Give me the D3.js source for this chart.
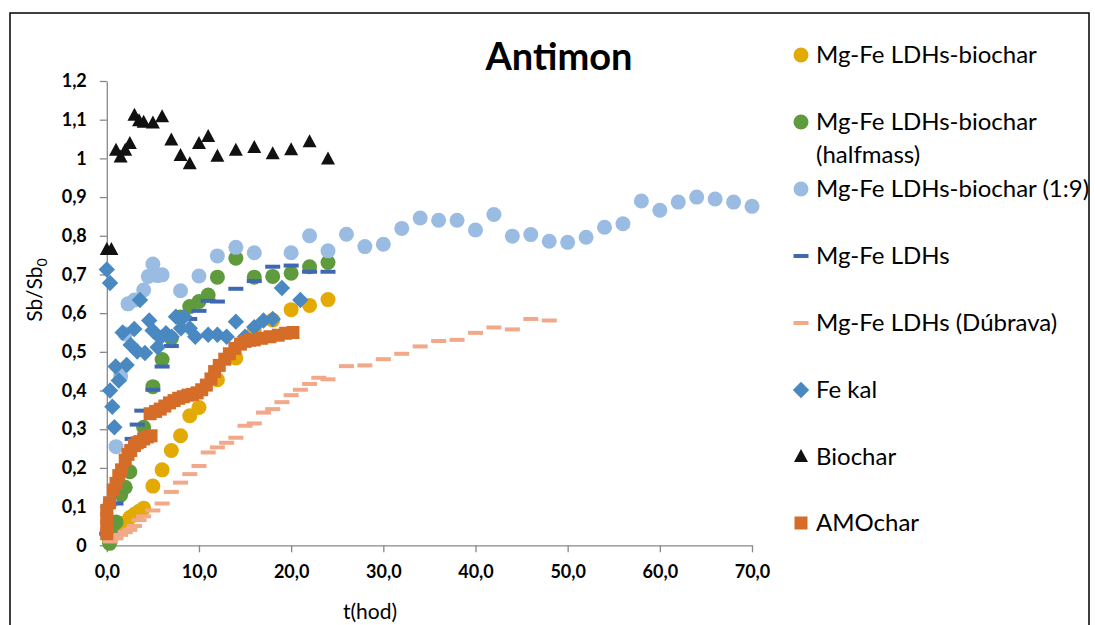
<!DOCTYPE html>
<html>
<head>
<meta charset="utf-8">
<script src="https://cdn.jsdelivr.net/npm/d3@7"></script>
<style>
  body { margin: 0; background: #fff; }
  svg { display: block; }
</style>
</head>
<body>
<div id="chart"></div>
<script>
// data: [t (hod), Sb/Sb0]
const ldhBiochar = [
  [0.25, 0.018], [0.5, 0.03], [1, 0.045], [1.5, 0.057], [2.5, 0.072], [3, 0.08], [3.5, 0.088],
  [4, 0.096], [5, 0.153], [6, 0.195], [7, 0.245], [8, 0.283], [9, 0.335], [10, 0.356],
  [12, 0.428], [14, 0.484], [16, 0.555], [18, 0.582], [20, 0.609], [22, 0.62], [24, 0.635]
];
const ldhBiocharHalf = [
  [0.3, 0.005], [0.5, 0.04], [1, 0.06], [1.5, 0.13], [2, 0.15], [2.5, 0.19], [4, 0.305],
  [5, 0.41], [6, 0.48], [7, 0.535], [8, 0.59], [9, 0.617], [10, 0.63], [11, 0.647],
  [12, 0.693], [14, 0.742], [16, 0.693], [18, 0.695], [20, 0.703], [22, 0.72], [24, 0.731]
];
const ldhBiochar19 = [
  [0, 0.03], [0.35, 0.109], [1, 0.255], [1.5, 0.436], [2, 0.546], [2.3, 0.624], [3, 0.634],
  [4, 0.66], [4.5, 0.695], [5, 0.727], [5.5, 0.697], [6, 0.699], [8, 0.658], [10, 0.696],
  [12, 0.748], [14, 0.77], [16, 0.756], [20, 0.756], [22, 0.8], [24, 0.761], [26, 0.804],
  [28, 0.772], [30, 0.778], [32, 0.819], [34, 0.846], [36, 0.84], [38, 0.84], [40, 0.815],
  [42, 0.855], [44, 0.799], [46, 0.803], [48, 0.786], [50, 0.783], [52, 0.796], [54, 0.822],
  [56, 0.831], [58, 0.89], [60, 0.866], [62, 0.887], [64, 0.9], [66, 0.895], [68, 0.887], [70, 0.876]
];
const ldh = [
  [0, 0.03], [1, 0.108], [2.75, 0.275], [3.3, 0.312], [3.8, 0.348], [5, 0.402], [6, 0.462],
  [7, 0.515], [9, 0.585], [10, 0.606], [11, 0.632], [12, 0.63], [14, 0.663], [16, 0.683],
  [18, 0.72], [20, 0.723], [22, 0.707], [24, 0.707]
];
const ldhDubrava = [
  [0.4, 0.01], [1, 0.018], [1.5, 0.027], [2, 0.034], [2.5, 0.04], [3, 0.05], [3.5, 0.065],
  [4, 0.075], [5, 0.09], [6, 0.108], [7, 0.138], [8, 0.162], [9, 0.184], [10, 0.205],
  [11, 0.24], [12, 0.253], [13, 0.265], [14, 0.278], [15, 0.309], [16, 0.315], [17, 0.343],
  [18, 0.352], [19, 0.37], [20, 0.388], [21, 0.402], [22, 0.417], [23, 0.433], [24, 0.429],
  [26, 0.463], [28, 0.465], [30, 0.481], [32, 0.495], [34, 0.514], [36, 0.528], [38, 0.531],
  [40, 0.549], [42, 0.563], [44, 0.558], [46, 0.585], [48, 0.581]
];
const feKal = [
  [0, 0.713], [0.35, 0.678], [0.35, 0.4], [0.6, 0.358], [0.82, 0.305], [0.96, 0.462],
  [1.3, 0.426], [1.72, 0.55], [2.15, 0.466], [2.59, 0.518], [2.98, 0.559], [3.3, 0.501],
  [3.6, 0.634], [4.14, 0.497], [4.6, 0.581], [4.97, 0.555], [5.52, 0.512], [5.8, 0.536],
  [6.42, 0.548], [7.04, 0.539], [7.5, 0.591], [8.05, 0.561], [8.4, 0.591], [9, 0.561],
  [9.6, 0.539], [11, 0.544], [12, 0.544], [13, 0.539], [14, 0.578], [15, 0.539], [16, 0.564],
  [17, 0.581], [18, 0.585], [19, 0.665], [21, 0.634]
];
const biochar = [
  [0, 0.763], [0.5, 0.763], [1, 1.02], [1.5, 1.002], [2, 1.02], [2.5, 1.037], [3, 1.11],
  [3.5, 1.096], [4, 1.092], [5, 1.09], [6, 1.106], [7, 1.046], [8, 1.006], [9, 0.985],
  [10, 1.037], [11, 1.055], [12, 1.004], [14, 1.02], [16, 1.027], [18, 1.011], [20, 1.021],
  [22, 1.042], [24, 0.997]
];
const amochar = [
  [0, 0.03], [0, 0.05], [0, 0.07], [0, 0.09], [0.3, 0.11], [0.7, 0.143], [1, 0.16], [1.3, 0.18],
  [1.6, 0.195], [2, 0.22], [2.3, 0.235], [2.6, 0.245], [3, 0.258], [3.3, 0.265], [3.6, 0.268],
  [4, 0.275], [4.4, 0.28], [4.8, 0.283], [4.7, 0.34], [5.3, 0.346], [5.8, 0.352], [6.3, 0.36],
  [6.8, 0.368], [7.3, 0.374], [7.8, 0.38], [8.3, 0.384], [8.8, 0.388], [9.3, 0.39], [9.8, 0.394],
  [10.3, 0.402], [10.8, 0.414], [11.3, 0.43], [11.7, 0.449], [12.2, 0.465], [12.8, 0.481],
  [13.3, 0.495], [13.9, 0.509], [14.5, 0.52], [15, 0.527], [15.5, 0.53], [16, 0.531],
  [16.8, 0.535], [17.7, 0.539], [18.6, 0.543], [19.4, 0.548], [20.2, 0.55]
];

const seriesNames = [
  ['Mg-Fe LDHs-biochar'],
  ['Mg-Fe LDHs-biochar', '(halfmass)'],
  ['Mg-Fe LDHs-biochar (1:9)'],
  ['Mg-Fe LDHs'],
  ['Mg-Fe LDHs (Dúbrava)'],
  ['Fe kal'],
  ['Biochar'],
  ['AMOchar']
];
const xTicks = [0, 10, 20, 30, 40, 50, 60, 70];
const xTickLabels = ['0,0', '10,0', '20,0', '30,0', '40,0', '50,0', '60,0', '70,0'];
const yTicks = [0, 0.1, 0.2, 0.3, 0.4, 0.5, 0.6, 0.7, 0.8, 0.9, 1, 1.1, 1.2];
const yTickLabels = ['0', '0,1', '0,2', '0,3', '0,4', '0,5', '0,6', '0,7', '0,8', '0,9', '1', '1,1', '1,2'];

const svgWidth = 1095;
const svgHeight = 625;
const font = 'Lato, "Liberation Sans", sans-serif';

const series = [
  { data: ldhBiochar, shape: 'circle', color: '#E3AA05' },
  { data: ldhBiocharHalf, shape: 'circle', color: '#5F9B3C' },
  { data: ldhBiochar19, shape: 'circle', color: '#9ABCE2' },
  { data: ldh, shape: 'dash', color: '#3F68B2' },
  { data: ldhDubrava, shape: 'dash', color: '#F2A98A' },
  { data: feKal, shape: 'diamond', color: '#4A88C1' },
  { data: biochar, shape: 'triangle', color: '#111111' },
  { data: amochar, shape: 'square', color: '#D56C28' }
];

const svg = d3.select('#chart')
  .append('svg')
  .attr('width', svgWidth)
  .attr('height', svgHeight);

// outer frame
svg.append('rect')
  .attr('x', 10).attr('y', 13)
  .attr('width', 1079).attr('height', 640)
  .attr('fill', 'none')
  .attr('stroke', '#000')
  .attr('stroke-width', 1.5);

const x = d3.scaleLinear().domain([0, 70]).range([106.8, 752]);
const y = d3.scaleLinear().domain([0, 1.2]).range([545.3, 81]);

// Y axis
const yAxis = svg.append('g')
  .attr('transform', `translate(${x(0)},0)`)
  .call(d3.axisLeft(y).tickValues(yTicks).tickSize(7).tickSizeOuter(0)
    .tickFormat((d, i) => yTickLabels[i]));
yAxis.select('.domain').attr('stroke', '#888').attr('stroke-width', 1.3);
yAxis.selectAll('.tick line').attr('stroke', '#888').attr('stroke-width', 1.3);
yAxis.selectAll('.tick text')
  .attr('x', -20)
  .style('font-family', font)
  .style('font-size', '18px')
  .style('font-weight', 'bold')
  .attr('fill', '#000');

// X axis
const xAxis = svg.append('g')
  .attr('transform', `translate(0,${y(0)})`)
  .call(d3.axisBottom(x).tickValues(xTicks).tickSize(7).tickSizeOuter(0)
    .tickFormat((d, i) => xTickLabels[i]));
xAxis.select('.domain').attr('stroke', '#888').attr('stroke-width', 1.3);
xAxis.selectAll('.tick line').attr('stroke', '#888').attr('stroke-width', 1.3);
xAxis.selectAll('.tick text')
  .attr('y', 20)
  .style('font-family', font)
  .style('font-size', '18px')
  .style('font-weight', 'bold')
  .attr('fill', '#000');

// markers
function drawMarker(g, shape, color, px, py) {
  if (shape === 'circle') {
    g.append('circle').attr('cx', px).attr('cy', py).attr('r', 7.5).attr('fill', color);
  } else if (shape === 'dash') {
    g.append('rect').attr('x', px - 7.5).attr('y', py - 2).attr('width', 15).attr('height', 4).attr('fill', color);
  } else if (shape === 'diamond') {
    g.append('rect').attr('x', -5.8).attr('y', -5.8).attr('width', 11.6).attr('height', 11.6)
      .attr('transform', `translate(${px},${py}) rotate(45)`).attr('fill', color);
  } else if (shape === 'triangle') {
    g.append('path').attr('d', `M${px},${py - 8}L${px + 7},${py + 5}L${px - 7},${py + 5}Z`).attr('fill', color);
  } else if (shape === 'square') {
    g.append('rect').attr('x', px - 6.5).attr('y', py - 6.5).attr('width', 13).attr('height', 13).attr('fill', color);
  }
}

series.forEach(s => {
  const g = svg.append('g');
  s.data.forEach(d => drawMarker(g, s.shape, s.color, x(d[0]), y(d[1])));
});

// title
svg.append('text')
  .attr('x', 559).attr('y', 70)
  .attr('text-anchor', 'middle')
  .style('font-family', font)
  .style('font-size', '38px')
  .style('font-weight', 'bold')
  .text('Antimon');

// axis titles
svg.append('text')
  .attr('x', 370).attr('y', 619)
  .attr('text-anchor', 'middle')
  .style('font-family', font)
  .style('font-size', '21px')
  .text('t(hod)');

const yTitle = svg.append('text')
  .attr('transform', 'translate(42,290) rotate(-90)')
  .attr('text-anchor', 'middle')
  .style('font-family', font)
  .style('font-size', '21px');
yTitle.append('tspan').text('Sb/Sb');
yTitle.append('tspan').attr('dy', 5).style('font-size', '14px').text('0');

// legend
const legendY = [55, 122, 189, 256, 323, 390, 457, 523];
series.forEach((s, i) => {
  const g = svg.append('g');
  drawMarker(g, s.shape, s.color, 801, legendY[i]);
  const t = g.append('text')
    .attr('x', 816).attr('y', legendY[i] + 8)
    .style('font-family', font)
    .style('font-size', '24px');
  seriesNames[i].forEach((line, j) => {
    t.append('tspan').attr('x', 816).attr('dy', j === 0 ? 0 : 33).text(line);
  });
});
</script>
</body>
</html>
